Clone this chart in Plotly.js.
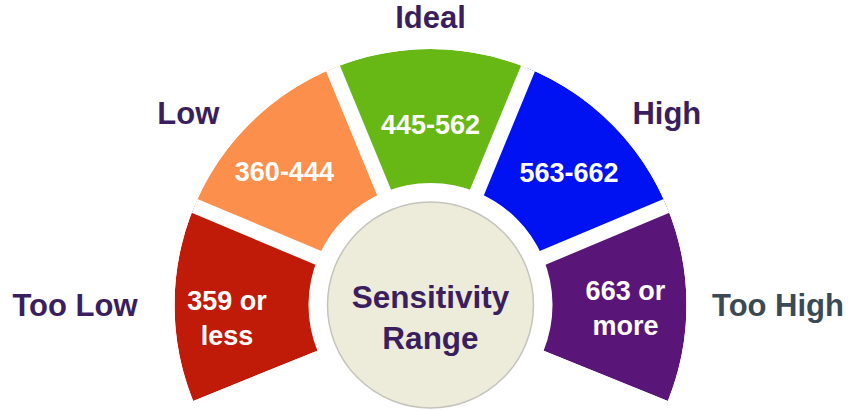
<!DOCTYPE html>
<html>
<head>
<meta charset="utf-8">
<script src="https://cdn.plot.ly/plotly-3.0.1.min.js"></script>
<style>
  html, body { margin: 0; padding: 0; background: #ffffff; }
  #chart { width: 850px; height: 411px; }
</style>
</head>
<body>
<div id="chart"></div>
<script>
// ---- data ----
const categories = ['Too Low', 'Low', 'Ideal', 'High', 'Too High'];
const rangeLabels = ['359 or<br>less', '360-444', '445-562', '563-662', '663 or<br>more'];
const segmentShares = [1, 1, 1, 1, 1];
const centerLabel = 'Sensitivity<br>Range';

// ---- styles / layout config ----
const segmentColors = ['#C01A08', '#FC8F4C', '#67B814', '#0012F2', '#5A1578'];
const categoryColors = ['#3A1E5E', '#3A1E5E', '#3A1E5E', '#3A1E5E', '#3B4A55'];
const FONT = '"Liberation Sans", Arial, Helvetica, sans-serif';
const START_ANGLE = 202, SWEEP = 224;
const R_IN = 122, R_OUT = 256, GAP = 15;
const innerLabelR = [204, 196, 178, 190, 195];
const innerLabelTheta = [184.4, 138.2, 90, 43.2, -1.8];
const outerLabelR = [355.5, 309, 288, 304.6, 347.5];
const outerLabelTheta = [180, 141.6, 90, 39.1, 0];
const W = 850, H = 411, CX = 430.5, CY = 305, TEXT_DY = 3;

// ---- geometry from data ----
const total = segmentShares.reduce((a, b) => a + b, 0);
const unit = SWEEP / total;
const thetaMid = [], widths = [], boundaries = [];
let cum = 0;
segmentShares.forEach((s, i) => {
  thetaMid.push(START_ANGLE - unit * (cum + s / 2));
  widths.push(unit * s);
  cum += s;
  if (i < segmentShares.length - 1) boundaries.push(START_ANGLE - unit * cum);
});
const rad = d => d * Math.PI / 180;
const px = (r, t) => CX + r * Math.cos(rad(t));
const py = (r, t) => CY - r * Math.sin(rad(t));

const traces = [];

// --- cartesian overlay (pixel units): centre disc, centre text, category labels ---
traces.push({
  type: 'scatter', mode: 'markers', x: [px(0, 0)], y: [py(0, 0)],
  marker: { size: 206, color: '#EDEBDA', line: { color: '#C4C4BC', width: 1.5 } },
  cliponaxis: false, hoverinfo: 'skip', showlegend: false
});
traces.push({
  type: 'scatter', mode: 'text', x: [px(16, -90)], y: [py(16, -90)], text: [centerLabel],
  textposition: 'middle center',
  textfont: { family: FONT, size: 31.5, color: '#3A1E5E', weight: 'bold' },
  cliponaxis: false, hoverinfo: 'skip', showlegend: false
});
traces.push({
  type: 'scatter', mode: 'text',
  x: outerLabelR.map((r, i) => px(r, outerLabelTheta[i])),
  y: outerLabelR.map((r, i) => py(r, outerLabelTheta[i]) + TEXT_DY),
  text: categories,
  textposition: 'middle center',
  textfont: { family: FONT, size: 31, color: categoryColors, weight: 'bold' },
  cliponaxis: false, hoverinfo: 'skip', showlegend: false
});

// --- polar gauge ---
traces.push({
  type: 'barpolar',
  r: segmentShares.map(() => R_OUT - R_IN),
  base: segmentShares.map(() => R_IN),
  theta: thetaMid,
  width: widths,
  marker: { color: segmentColors, line: { width: 0 } },
  hoverinfo: 'skip',
  showlegend: false
});

// white separating bands between segments
const gapR = [], gapT = [];
boundaries.forEach(b => { gapR.push(R_IN - 12, R_OUT, null); gapT.push(b, b, null); });
traces.push({
  type: 'scatterpolar', mode: 'lines', r: gapR, theta: gapT,
  line: { color: '#ffffff', width: GAP }, hoverinfo: 'skip', showlegend: false
});

// range labels inside segments
traces.push({
  type: 'scatterpolar', mode: 'text', r: innerLabelR, theta: innerLabelTheta, text: rangeLabels,
  textposition: 'middle center',
  textfont: { family: FONT, size: 27, color: '#ffffff', weight: 'bold' },
  cliponaxis: false, hoverinfo: 'skip', showlegend: false
});

const lowExt = Math.sin(rad(22)) * R_OUT;
const layout = {
  width: W, height: H,
  margin: { l: 0, r: 0, t: 0, b: 0 },
  paper_bgcolor: '#ffffff',
  plot_bgcolor: 'rgba(0,0,0,0)',
  showlegend: false,
  xaxis: { range: [0, W], visible: false, fixedrange: true, domain: [0, 1] },
  yaxis: { range: [H, 0], visible: false, fixedrange: true, domain: [0, 1] },
  polar: {
    domain: {
      x: [(CX - R_OUT) / W, (CX + R_OUT) / W],
      y: [1 - (CY + lowExt) / H, 1 - (CY - R_OUT) / H]
    },
    sector: [-22, 202],
    bgcolor: 'rgba(0,0,0,0)',
    radialaxis: { visible: false, range: [0, R_OUT], showgrid: false, showline: false },
    angularaxis: { visible: false, showgrid: false, showline: false, direction: 'counterclockwise', rotation: 0 },
    bargap: 0
  }
};

Plotly.newPlot('chart', traces, layout, { displayModeBar: false, staticPlot: true });
</script>
</body>
</html>
